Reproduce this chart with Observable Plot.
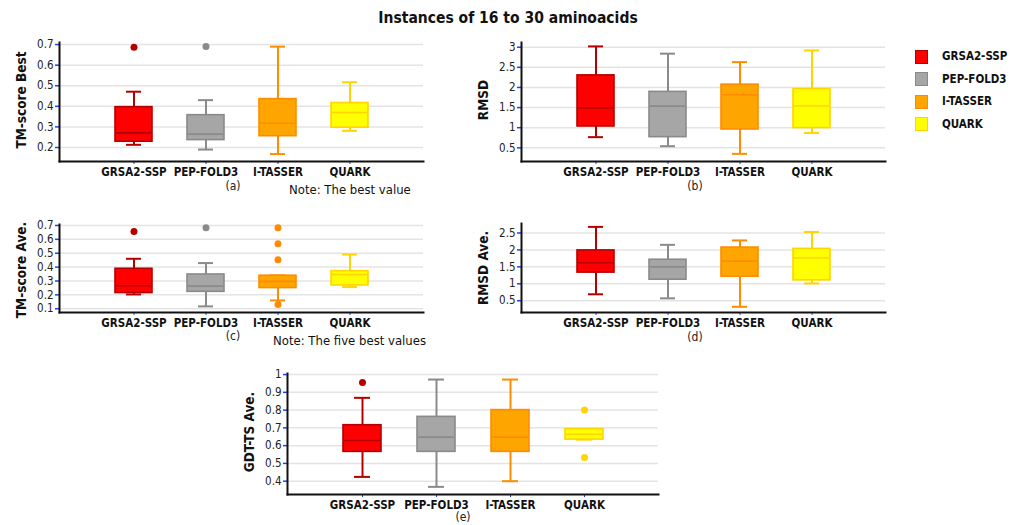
<!DOCTYPE html>
<html><head><meta charset="utf-8">
<script src="https://cdn.jsdelivr.net/npm/d3@7"></script>
<script src="https://cdn.jsdelivr.net/npm/@observablehq/plot@0.6"></script>
<style>
body{margin:0;background:#fff;font-family:"DejaVu Sans Condensed","DejaVu Sans",sans-serif;}
#wrap{position:relative;width:1016px;height:525px;overflow:hidden;}
.abs{position:absolute;white-space:nowrap;}
.ylab{position:absolute;font-weight:bold;font-size:13.5px;color:#111;transform:translate(-50%,-50%) rotate(-90deg);white-space:nowrap;}
.sub{position:absolute;font-size:12px;color:#222;transform:translateX(-50%);}
.note{position:absolute;font-size:13px;color:#111;white-space:nowrap;}
.leg{position:absolute;left:915px;font-size:11.5px;font-weight:bold;color:#111;}
.leg span.sw{display:inline-block;width:13px;height:14px;vertical-align:middle;margin-right:14px;box-sizing:border-box;border:1px solid;}
</style></head>
<body><div id="wrap"></div>
<script>
// ---------- data ----------
const methods = ["GRSA2-SSP", "PEP-FOLD3", "I-TASSER", "QUARK"];
const fillColors = ["#ff0000", "#a6a6a6", "#ffa500", "#ffff00"];
const lineColors = ["#b50000", "#8a8a8a", "#ff8c00", "#ffd400"];

// stats per method: [min whisker, Q1, median, Q3, max whisker]
const tmBestStats = [[0.213,0.228,0.271,0.396,0.471],[0.19,0.236,0.265,0.357,0.43],[0.168,0.255,0.318,0.435,0.69],[0.281,0.296,0.37,0.416,0.517]];
const tmBestOutliers = [[0.687],[0.69],[],[]];
const tmBestTicks = [0.2,0.3,0.4,0.5,0.6,0.7];

const rmsdStats = [[0.765,1.03,1.49,2.30,3.02],[0.54,0.765,1.535,1.89,2.84],[0.35,0.955,1.82,2.07,2.63],[0.87,0.99,1.54,1.96,2.92]];
const rmsdOutliers = [[],[],[],[]];
const rmsdTicks = [0.5,1,1.5,2,2.5,3];

const tmAveStats = [[0.203,0.213,0.266,0.388,0.46],[0.117,0.222,0.263,0.347,0.429],[0.16,0.249,0.297,0.338,0.34],[0.256,0.268,0.347,0.371,0.491]];
const tmAveOutliers = [[0.657],[0.683],[0.683,0.568,0.453,0.131],[]];
const tmAveTicks = [0.1,0.2,0.3,0.4,0.5,0.6,0.7];

const rmsdAveStats = [[0.69,1.33,1.62,1.985,2.68],[0.57,1.12,1.50,1.71,2.15],[0.32,1.21,1.67,2.07,2.28],[1.01,1.10,1.76,2.03,2.53]];
const rmsdAveOutliers = [[],[],[],[]];
const rmsdAveTicks = [0.5,1,1.5,2,2.5];

const gdtAveStats = [[0.424,0.565,0.629,0.715,0.869],[0.368,0.565,0.648,0.762,0.972],[0.40,0.565,0.648,0.80,0.972],[0.634,0.634,0.664,0.693,0.693]];
const gdtAveOutliers = [[0.955],[],[],[0.80,0.533]];
const gdtAveTicks = [0.4,0.5,0.6,0.7,0.8,0.9,1];

// ---------- drawing ----------
const wrap = document.getElementById("wrap");

function panel({stats, outliers, ticks, domain, left, top, width, height, mTop, mBottom, mLeft, mRight}) {
  const rows = methods.map((m, i) => ({method: m, i, min: stats[i][0], q1: stats[i][1], med: stats[i][2], q3: stats[i][3], max: stats[i][4]}));
  const outs = outliers.flatMap((arr, i) => arr.map(v => ({method: methods[i], i, v})));
  const fill = d => fillColors[d.i];
  const line = d => lineColors[d.i];
  const chart = Plot.plot({
    width, height, marginTop: mTop, marginBottom: mBottom, marginLeft: mLeft, marginRight: mRight,
    style: {fontFamily: '"DejaVu Sans Condensed","DejaVu Sans",sans-serif', fontSize: "11.5px", background: "transparent", overflow: "visible"},
    x: {type: "band", domain: methods, paddingInner: 0.493, paddingOuter: 0.74, label: null},
    y: {domain, label: null},
    color: {type: "identity"},
    marks: [
      Plot.gridY(ticks, {stroke: "#e4e4e4", strokeOpacity: 1, strokeWidth: 1.5}),
      Plot.ruleX(rows, {x: "method", y1: "min", y2: "q1", stroke: line, strokeWidth: 2}),
      Plot.ruleX(rows, {x: "method", y1: "q3", y2: "max", stroke: line, strokeWidth: 2}),
      Plot.tickY(rows, {x: "method", y: "min", stroke: line, strokeWidth: 2, insetLeft: 11, insetRight: 11}),
      Plot.tickY(rows, {x: "method", y: "max", stroke: line, strokeWidth: 2, insetLeft: 11, insetRight: 11}),
      Plot.barY(rows, {x: "method", y1: "q1", y2: "q3", fill, stroke: line, strokeWidth: 1.6}),
      Plot.tickY(rows, {x: "method", y: "med", stroke: line, strokeWidth: 1.6, insetLeft: 1, insetRight: 1}),
      Plot.dot(outs, {x: "method", y: "v", fill: line, r: 3.5, stroke: null}),
      Plot.axisY(ticks, {tickSize: 4, tickPadding: 2, stroke: "#1f3fff", fill: "#222", strokeWidth: 1.5, label: null, tickFormat: d => String(d)}),
      Plot.axisX({tickSize: 3, tickPadding: 3, stroke: "#1f3fff", fill: "#111", fontWeight: "bold", label: null}),
      Plot.frame({anchor: "left", stroke: "#111", strokeWidth: 2}),
      Plot.frame({anchor: "bottom", stroke: "#111", strokeWidth: 2})
    ]
  });
  chart.style.position = "absolute";
  chart.style.left = left + "px";
  chart.style.top = top + "px";
  wrap.appendChild(chart);
}

panel({stats: tmBestStats, outliers: tmBestOutliers, ticks: tmBestTicks, domain: [0.132, 0.71],
  left: 0, top: 30, width: 433, height: 170, mTop: 12, mBottom: 39, mLeft: 59, mRight: 10});
panel({stats: rmsdStats, outliers: rmsdOutliers, ticks: rmsdTicks, domain: [0.16, 3.117],
  left: 460, top: 30, width: 435, height: 170, mTop: 12, mBottom: 39, mLeft: 61, mRight: 10});
panel({stats: tmAveStats, outliers: tmAveOutliers, ticks: tmAveTicks, domain: [0.073, 0.707],
  left: 0, top: 200, width: 433, height: 160, mTop: 24, mBottom: 48, mLeft: 59, mRight: 10});
panel({stats: rmsdAveStats, outliers: rmsdAveOutliers, ticks: rmsdAveTicks, domain: [0.152, 2.78],
  left: 460, top: 200, width: 435, height: 160, mTop: 23, mBottom: 48, mLeft: 61, mRight: 10});
panel({stats: gdtAveStats, outliers: gdtAveOutliers, ticks: gdtAveTicks, domain: [0.325, 1.006],
  left: 230, top: 355, width: 436, height: 170, mTop: 18, mBottom: 31, mLeft: 57, mRight: 8});

// ---------- texts ----------
function add(html, cls, style) {
  const d = document.createElement("div");
  d.className = cls; d.innerHTML = html;
  Object.assign(d.style, style);
  wrap.appendChild(d);
}
add("Instances of 16 to 30 aminoacids", "abs", {left: "508px", top: "9px", transform: "translateX(-50%)", fontWeight: "bold", fontSize: "15.5px", color: "#111"});

add("TM-score Best", "ylab", {left: "21px", top: "100px"});
add("RMSD", "ylab", {left: "483px", top: "100px"});
add("TM-score Ave.", "ylab", {left: "21px", top: "270px"});
add("RMSD Ave.", "ylab", {left: "483px", top: "268px"});
add("GDT-TS Ave.", "ylab", {left: "249px", top: "432px"});

add("(a)", "sub", {left: "233px", top: "179px"});
add("(b)", "sub", {left: "695px", top: "179px"});
add("(c)", "sub", {left: "233px", top: "329px"});
add("(d)", "sub", {left: "695px", top: "330px"});
add("(e)", "sub", {left: "463px", top: "510px"});

add("Note: The best value", "note", {left: "289px", top: "182px"});
add("Note: The five best values", "note", {left: "273px", top: "333px"});

methods.forEach((m, i) => {
  add(`<span class="sw" style="background:${fillColors[i]};border-color:${lineColors[i]}"></span>${m}`, "leg",
    {top: (49 + i * 22.5) + "px"});
});
</script>
</body></html>
